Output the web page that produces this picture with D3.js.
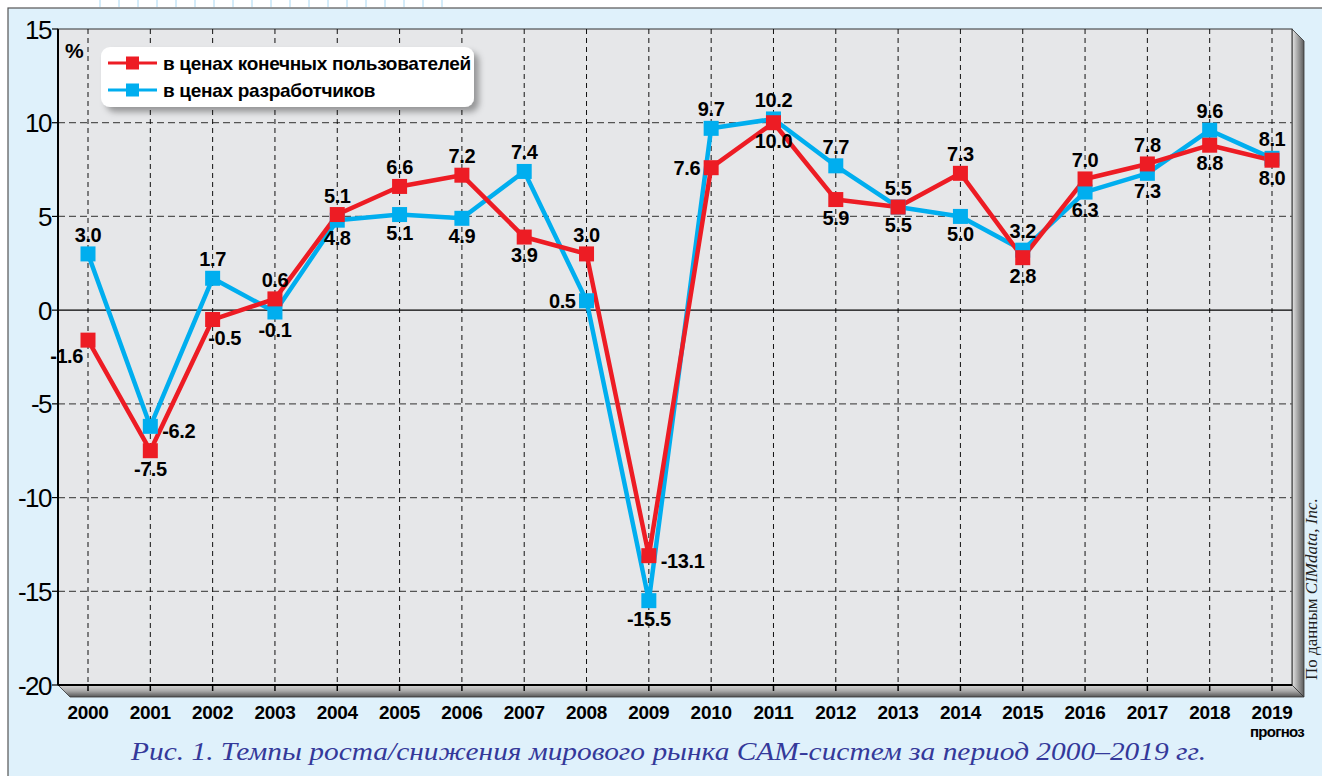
<!DOCTYPE html>
<html>
<head>
<meta charset="utf-8">
<style>
  body { margin: 0; background: #fff; }
  svg { display: block; }
  .tick-y { font-family: "Liberation Sans", Arial, sans-serif; font-size: 26px; letter-spacing: -1.5px; }
  .year { font-family: "Liberation Sans", Arial, sans-serif; font-size: 19px; font-weight: bold; letter-spacing: -0.3px; }
  .val { font-family: "Liberation Sans", Arial, sans-serif; font-size: 20px; font-weight: bold; letter-spacing: -0.4px; }
  .leg { font-family: "Liberation Sans", Arial, sans-serif; font-size: 19px; font-weight: bold; letter-spacing: -0.3px; }
</style>
</head>
<body>
<svg width="1322" height="776"></svg>
<script src="https://cdnjs.cloudflare.com/ajax/libs/d3/7.8.5/d3.min.js"></script>
<script>
const years = [2000, 2001, 2002, 2003, 2004, 2005, 2006, 2007, 2008, 2009,
               2010, 2011, 2012, 2013, 2014, 2015, 2016, 2017, 2018, 2019];
const endUserGrowth = [-1.6, -7.5, -0.5, 0.6, 5.1, 6.6, 7.2, 3.9, 3.0, -13.1,
                       7.6, 10.0, 5.9, 5.5, 7.3, 2.8, 7.0, 7.8, 8.8, 8.0];
const developerGrowth = [3.0, -6.2, 1.7, -0.1, 4.8, 5.1, 4.9, 7.4, 0.5, -15.5,
                         9.7, 10.2, 7.7, 5.5, 5.0, 3.2, 6.3, 7.3, 9.6, 8.1];
// where each value label sits: a = above, b = below, l = left, r = right
const endUserLabelPos = ['lb', 'b', 'br', 'a', 'a', 'a', 'a', 'b', 'a', 'r',
                         'l', 'b', 'b', 'b', 'a', 'b', 'a', 'a', 'b', 'b'];
const developerLabelPos = ['a', 'r', 'a', 'b', 'b', 'b', 'b', 'a', 'l', 'b',
                           'a', 'a', 'a', 'a', 'b', 'a', 'b', 'b', 'a', 'a'];
const yTicks = [15, 10, 5, 0, -5, -10, -15, -20];
const seriesNames = ['в ценах конечных пользователей', 'в ценах разработчиков'];
const caption = 'Рис. 1. Темпы роста/снижения мирового рынка CAM-систем за период 2000\u20132019 гг.';

const svg = d3.select('svg');
const RED = '#ed1c24', BLUE = '#00aeef';

const plotL = 58, plotR = 1292, plotT = 29, plotB = 685, depth = 12;

const x = d3.scaleLinear().domain([2000, 2019]).range([88, 1272]);
const y = d3.scaleLinear().domain([-20, 15]).range([plotB, plotT]);

const defs = svg.append('defs');
const wallGrad = defs.append('linearGradient').attr('id', 'wall').attr('x1', 0).attr('x2', 1).attr('y1', 0).attr('y2', 0);
wallGrad.append('stop').attr('offset', '0%').attr('stop-color', '#e8e8e8');
wallGrad.append('stop').attr('offset', '100%').attr('stop-color', '#5a5a5a');
const floorGrad = defs.append('linearGradient').attr('id', 'floor').attr('x1', 0).attr('x2', 0).attr('y1', 0).attr('y2', 1);
floorGrad.append('stop').attr('offset', '0%').attr('stop-color', '#d8d8d8');
floorGrad.append('stop').attr('offset', '50%').attr('stop-color', '#a8a8a8');
floorGrad.append('stop').attr('offset', '100%').attr('stop-color', '#555');
const shadow = defs.append('filter').attr('id', 'shadow').attr('x', '-10%').attr('y', '-20%').attr('width', '130%').attr('height', '160%');
shadow.append('feDropShadow').attr('dx', 5).attr('dy', 5).attr('stdDeviation', 3).attr('flood-color', '#000').attr('flood-opacity', 0.35);

// page background: white strip on top with light table lines, blue panel
svg.append('rect').attr('width', 1322).attr('height', 776).attr('fill', '#fff');
svg.append('g').selectAll('line').data(d3.range(100, 460, 19)).join('line')
  .attr('x1', d => d).attr('x2', d => d).attr('y1', 0).attr('y2', 7)
  .attr('stroke', '#a9d8f2').attr('stroke-width', 1);
svg.append('rect').attr('x', 8).attr('y', 8).attr('width', 1320).attr('height', 776)
  .attr('fill', '#dff1fb').attr('stroke', '#555').attr('stroke-width', 1.2);

// 3D floor and right wall
svg.append('path')
  .attr('d', `M${plotL},${plotB} L${plotR},${plotB} L${plotR + depth},${plotB + depth} L${plotL + depth},${plotB + depth} Z`)
  .attr('fill', 'url(#floor)').attr('stroke', '#333').attr('stroke-width', 0.8);
svg.append('path')
  .attr('d', `M${plotR},${plotT} L${plotR + depth},${plotT + depth} L${plotR + depth},${plotB + depth} L${plotR},${plotB} Z`)
  .attr('fill', 'url(#wall)').attr('stroke', '#333').attr('stroke-width', 0.8);

// back wall
svg.append('rect').attr('x', plotL).attr('y', plotT).attr('width', plotR - plotL).attr('height', plotB - plotT)
  .attr('fill', '#e6e7e9').attr('stroke', '#333').attr('stroke-width', 1);

// grid
svg.append('g').selectAll('line').data(yTicks.filter(d => d !== 0 && d !== 15 && d !== -20)).join('line')
  .attr('x1', plotL).attr('x2', plotR).attr('y1', d => y(d)).attr('y2', d => y(d))
  .attr('stroke', '#555').attr('stroke-width', 1.2).attr('stroke-dasharray', '7,4');
svg.append('g').selectAll('line').data(years).join('line')
  .attr('x1', d => x(d)).attr('x2', d => x(d)).attr('y1', plotT).attr('y2', plotB)
  .attr('stroke', '#111').attr('stroke-width', 1).attr('stroke-dasharray', '5,4');
svg.append('line').attr('x1', plotL).attr('x2', plotR).attr('y1', y(0)).attr('y2', y(0))
  .attr('stroke', '#000').attr('stroke-width', 1.3);

// axes
svg.append('line').attr('x1', plotL).attr('x2', plotL).attr('y1', plotT).attr('y2', plotB)
  .attr('stroke', '#000').attr('stroke-width', 2);
svg.append('line').attr('x1', plotL).attr('x2', plotR).attr('y1', plotB).attr('y2', plotB)
  .attr('stroke', '#000').attr('stroke-width', 2);
svg.append('g').selectAll('line').data(yTicks).join('line')
  .attr('x1', plotL - 6).attr('x2', plotL).attr('y1', d => y(d)).attr('y2', d => y(d))
  .attr('stroke', '#000').attr('stroke-width', 1.2);
svg.append('g').selectAll('text').data(yTicks).join('text')
  .attr('class', 'tick-y')
  .attr('x', plotL - 7).attr('y', d => y(d) + 9.5)
  .attr('text-anchor', 'end')
  .text(d => d);
svg.append('g').selectAll('line').data(years).join('line')
  .attr('x1', d => x(d)).attr('x2', d => x(d)).attr('y1', plotB).attr('y2', plotB + 6)
  .attr('stroke', '#000').attr('stroke-width', 1.5);
svg.append('g').selectAll('text').data(years).join('text')
  .attr('class', 'year')
  .attr('x', d => x(d)).attr('y', 719)
  .attr('text-anchor', 'middle')
  .text(d => d);
svg.append('text').attr('class', 'year')
  .attr('x', x(2019) + 5).attr('y', 737).attr('text-anchor', 'middle')
  .style('font-size', '15px').style('letter-spacing', '-0.7px')
  .text('прогноз');

svg.append('text').attr('x', 65).attr('y', 58)
  .style('font-family', '"Liberation Sans", Arial, sans-serif').style('font-weight', 'bold').style('font-size', '21px')
  .text('%');

// series
const line = d3.line().x((d, i) => x(years[i])).y(d => y(d));
const series = [
  { values: endUserGrowth, pos: endUserLabelPos, color: RED },
  { values: developerGrowth, pos: developerLabelPos, color: BLUE }
];
const order = [series[1], series[0]];
order.forEach(s => {
  svg.append('path').datum(s.values).attr('d', line)
    .attr('fill', 'none').attr('stroke', s.color).attr('stroke-width', 4.5).attr('stroke-linejoin', 'round');
});
order.forEach(s => {
  svg.append('g').selectAll('rect').data(s.values).join('rect')
    .attr('x', (d, i) => x(years[i]) - 7.5).attr('y', d => y(d) - 7.5)
    .attr('width', 15).attr('height', 15).attr('fill', s.color);
});

const offsets = {
  a: [0, -12, 'middle'],
  b: [0, 25, 'middle'],
  l: [-11, 7, 'end'],
  r: [12, 12, 'start'],
  lb: [-5, 23, 'end'],
  br: [12, 25, 'middle']
};
series.forEach(s => {
  svg.append('g').selectAll('text').data(s.values).join('text')
    .attr('class', 'val')
    .attr('x', (d, i) => x(years[i]) + offsets[s.pos[i]][0])
    .attr('y', (d, i) => y(d) + offsets[s.pos[i]][1])
    .attr('text-anchor', (d, i) => offsets[s.pos[i]][2])
    .text(d => d.toFixed(1));
});

// legend
const lg = svg.append('g');
lg.append('rect').attr('x', 101).attr('y', 47).attr('width', 373).attr('height', 60).attr('rx', 9)
  .attr('fill', '#fff').attr('filter', 'url(#shadow)');
[RED, BLUE].forEach((c, i) => {
  const ly = 63 + i * 27;
  lg.append('line').attr('x1', 108).attr('x2', 157).attr('y1', ly).attr('y2', ly)
    .attr('stroke', c).attr('stroke-width', 3);
  lg.append('rect').attr('x', 126).attr('y', ly - 6.5).attr('width', 13).attr('height', 13).attr('fill', c);
  lg.append('text').attr('class', 'leg').attr('x', 163).attr('y', ly + 7).text(seriesNames[i]);
});

// source note, rotated
const src = svg.append('text')
  .attr('transform', 'translate(1317,680) rotate(-90)')
  .style('font-family', '"Liberation Serif", "DejaVu Serif", serif').style('font-size', '17px').attr('fill', '#222');
src.append('tspan').text('По данным ');
src.append('tspan').style('font-style', 'italic').text('CIMdata, Inc.');

// caption
svg.append('text')
  .attr('x', 131).attr('y', 760)
  .attr('textLength', 1075).attr('lengthAdjust', 'spacingAndGlyphs')
  .style('font-family', '"Liberation Serif", "DejaVu Serif", serif').style('font-style', 'italic').style('font-size', '26px')
  .attr('fill', '#34399a')
  .text(caption);
</script>
</body>
</html>
